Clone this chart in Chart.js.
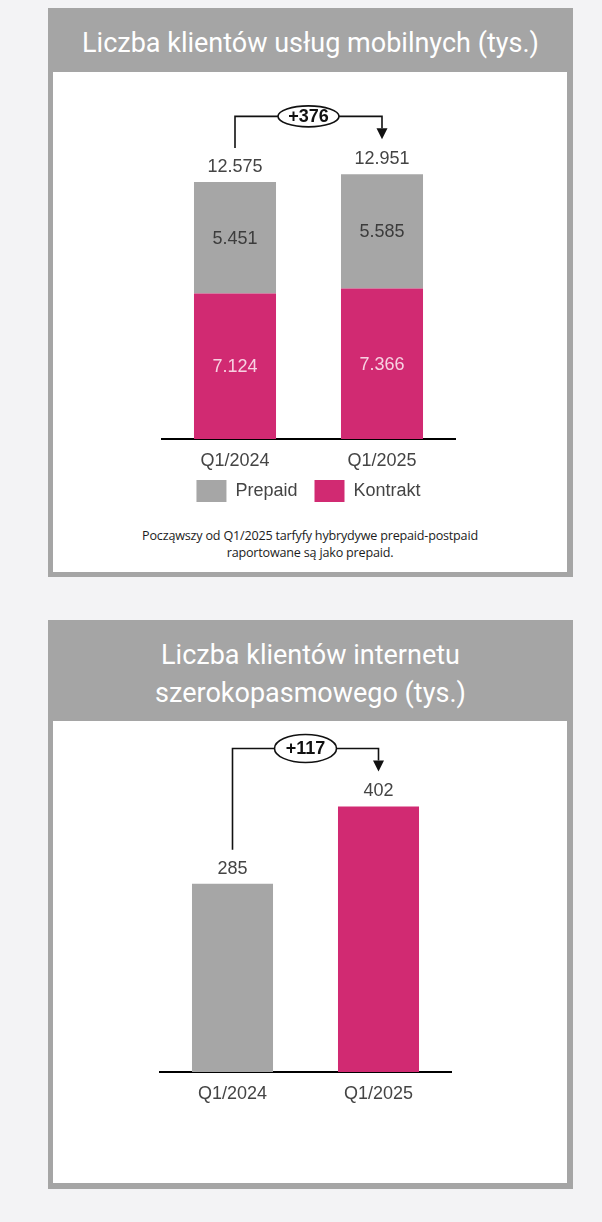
<!DOCTYPE html>
<html lang="pl">
<head>
<meta charset="utf-8">
<script src="https://cdn.jsdelivr.net/npm/chart.js@4.4.1/dist/chart.umd.min.js"></script>
<style>
  html, body { margin: 0; padding: 0; }
  body { width: 602px; height: 1222px; background: #f3f3f5; position: relative; overflow: hidden; }
  .panel { position: absolute; left: 48px; width: 525px; height: 569px; background: #a5a5a5; }
  .panel h2 { position: absolute; left: 0; right: 0; top: 16px; margin: 0; color: #fff; text-align: center;
              font: 400 27px/38px Roboto, sans-serif; }
  .inner { position: absolute; left: 5px; width: 514px; background: #fff; }
  canvas { position: absolute; left: 0; top: 0; }
  .note { position: absolute; left: 0; top: 455px; width: 514px; text-align: center; color: #1c1c1c;
          font: 12.6px/17px "Open Sans", sans-serif; letter-spacing: -0.2px; }
</style>
</head>
<body>
<div class="panel" style="top:8px">
  <h2>Liczba klientów usług mobilnych (tys.)</h2>
  <div class="inner" style="top:64px;height:500px">
    <canvas id="mobile" width="514" height="450"></canvas>
    <div class="note">Począwszy od Q1/2025 tarfyfy hybrydywe prepaid-postpaid<br>raportowane są jako prepaid.</div>
  </div>
</div>
<div class="panel" style="top:620px">
  <h2>Liczba klientów internetu<br>szerokopasmowego (tys.)</h2>
  <div class="inner" style="top:101px;height:462px">
    <canvas id="broadband" width="514" height="462"></canvas>
  </div>
</div>
<script>
// data
const categories = ['Q1/2024', 'Q1/2025'];
const seriesNames = ['Prepaid', 'Kontrakt'];
const prepaid = [5451, 5585];
const kontrakt = [7124, 7366];
const broadband = [285, 402];

const GREY = '#a6a6a6';
const MAGENTA = '#d12a72';
const FONT = 'Liberation Sans';

// 12575 -> "12.575"
function fmt(v) {
  return String(v).replace(/\B(?=(\d{3})+(?!\d))/g, '.');
}

const totals = categories.map((c, i) => prepaid[i] + kontrakt[i]);

// value labels + the "+diff" bracket above the bars
const topLabels = {
  id: 'topLabels',
  afterDatasetsDraw(chart, args, opts) {
    const ctx = chart.ctx;
    const last = chart.getDatasetMeta(chart.data.datasets.length - 1).data;
    const xs = last.map(b => b.x);
    const labY = last.map(b => b.y - 15);
    ctx.save();
    ctx.textAlign = 'center';
    ctx.textBaseline = 'middle';
    ctx.font = '18px "' + FONT + '"';

    if (opts.segments) {
      chart.data.datasets.forEach((ds, d) => {
        ctx.fillStyle = ds.labelColor;
        chart.getDatasetMeta(d).data.forEach((bar, i) => {
          ctx.fillText(fmt(ds.data[i]), bar.x, (bar.y + bar.base) / 2 + 1);
        });
      });
    }

    ctx.fillStyle = '#444';
    opts.totals.forEach((v, i) => ctx.fillText(fmt(v), xs[i], labY[i]));

    // bracket
    const lineY = Math.min(...labY) - 43;
    const x1 = xs[0], x2 = xs[1];
    ctx.strokeStyle = '#111';
    ctx.lineWidth = 1.6;
    ctx.beginPath();
    ctx.moveTo(x1, labY[0] - 19);
    ctx.lineTo(x1, lineY);
    ctx.lineTo(x2, lineY);
    ctx.lineTo(x2, labY[1] - 31);
    ctx.stroke();
    ctx.fillStyle = '#111';
    ctx.beginPath();
    ctx.moveTo(x2 - 5.5, labY[1] - 31);
    ctx.lineTo(x2 + 5.5, labY[1] - 31);
    ctx.lineTo(x2, labY[1] - 20);
    ctx.closePath();
    ctx.fill();

    // oval with the difference
    const cx = (x1 + x2) / 2;
    ctx.beginPath();
    ctx.ellipse(cx, lineY, opts.rx, opts.ry, 0, 0, Math.PI * 2);
    ctx.fillStyle = '#fff';
    ctx.fill();
    ctx.stroke();
    ctx.fillStyle = '#111';
    ctx.font = 'bold 18px "' + FONT + '"';
    ctx.fillText('+' + fmt(opts.totals[1] - opts.totals[0]), cx, lineY + 1);
    ctx.restore();
  }
};

// legend sits a bit closer to the tick labels than its padding allows
const legendNudge = {
  id: 'legendNudge',
  afterLayout(chart, args, opts) {
    if (chart.legend) {
      chart.legend.top -= opts.up;
      chart.legend.bottom -= opts.up;
    }
  }
};

function xAxis(stacked) {
  return {
    stacked: stacked,
    grid: { display: true, drawOnChartArea: false, drawTicks: false, color: 'rgba(0,0,0,0)' },
    border: { display: true, color: '#000', width: 2 },
    ticks: { color: '#444', font: { family: FONT, size: 18, lineHeight: 1 }, padding: 13 },
    afterFit: s => { s.height = 32; }
  };
}

new Chart(document.getElementById('mobile'), {
  type: 'bar',
  data: {
    labels: categories,
    datasets: [
      { label: seriesNames[1], data: kontrakt, backgroundColor: MAGENTA, labelColor: '#f7d2e2' },
      { label: seriesNames[0], data: prepaid, backgroundColor: GREY, labelColor: '#3c3c3c' }
    ]
  },
  options: {
    responsive: false,
    animation: false,
    layout: { padding: { left: 108.5, right: 111.5, top: 30, bottom: 2 } },
    datasets: { bar: { categoryPercentage: 1, barPercentage: 0.558 } },
    scales: {
      x: xAxis(true),
      y: { stacked: true, display: false, min: 0, max: 16490 }
    },
    plugins: {
      legend: {
        position: 'bottom',
        reverse: true,
        labels: { boxWidth: 30, boxHeight: 22, padding: 17, color: '#444', font: { family: FONT, size: 18 } }
      },
      tooltip: { enabled: false },
      topLabels: { segments: true, totals: totals, rx: 30.5, ry: 10.5 },
      legendNudge: { up: 8 }
    }
  },
  plugins: [topLabels, legendNudge]
});

new Chart(document.getElementById('broadband'), {
  type: 'bar',
  data: {
    labels: categories,
    datasets: [{ label: 'Klienci', data: broadband, backgroundColor: [GREY, MAGENTA] }]
  },
  options: {
    responsive: false,
    animation: false,
    layout: { padding: { left: 106.5, right: 115.5, top: 30, bottom: 79 } },
    datasets: { bar: { categoryPercentage: 1, barPercentage: 0.555 } },
    scales: {
      x: xAxis(false),
      y: { display: false, min: 0, max: 486 }
    },
    plugins: {
      legend: { display: false },
      tooltip: { enabled: false },
      topLabels: { segments: false, totals: broadband, rx: 31, ry: 14 }
    }
  },
  plugins: [topLabels]
});
</script>
</body>
</html>
